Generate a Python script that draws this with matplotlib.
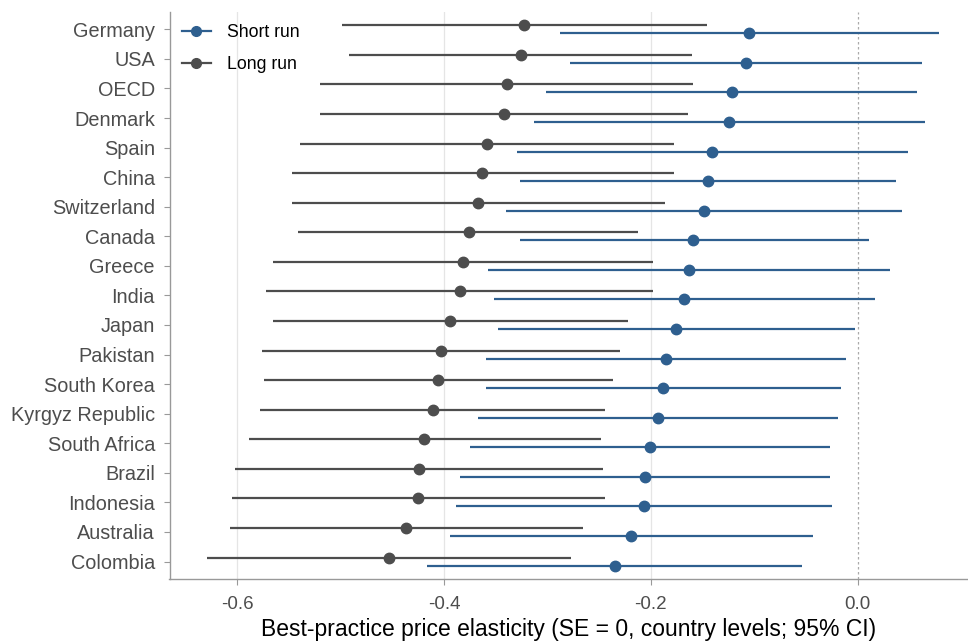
import matplotlib
matplotlib.use("Agg")
import matplotlib.pyplot as plt
from matplotlib.lines import Line2D
import numpy as np

plt.rcParams['font.family'] = ['Liberation Sans', 'DejaVu Sans']

countries = ["Germany", "USA", "OECD", "Denmark", "Spain", "China", "Switzerland",
             "Canada", "Greece", "India", "Japan", "Pakistan", "South Korea",
             "Kyrgyz Republic", "South Africa", "Brazil", "Indonesia", "Australia", "Colombia"]

short_est = [-0.105, -0.108, -0.122, -0.124, -0.141, -0.145, -0.149, -0.159, -0.163, -0.168,
             -0.176, -0.185, -0.188, -0.193, -0.201, -0.206, -0.207, -0.219, -0.235]
short_lo = [-0.288, -0.278, -0.301, -0.313, -0.329, -0.327, -0.340, -0.327, -0.357, -0.352,
            -0.348, -0.359, -0.359, -0.367, -0.375, -0.385, -0.388, -0.394, -0.416]
short_hi = [0.079, 0.062, 0.057, 0.065, 0.049, 0.037, 0.043, 0.011, 0.031, 0.017,
            -0.003, -0.011, -0.016, -0.019, -0.027, -0.027, -0.025, -0.043, -0.054]

long_est = [-0.323, -0.326, -0.339, -0.342, -0.358, -0.363, -0.367, -0.376, -0.382, -0.385,
            -0.394, -0.403, -0.406, -0.411, -0.419, -0.424, -0.425, -0.437, -0.453]
long_lo = [-0.499, -0.492, -0.520, -0.520, -0.539, -0.547, -0.547, -0.541, -0.565, -0.572,
           -0.565, -0.576, -0.574, -0.578, -0.589, -0.602, -0.605, -0.607, -0.629]
long_hi = [-0.146, -0.160, -0.159, -0.164, -0.178, -0.178, -0.186, -0.212, -0.198, -0.198,
           -0.222, -0.230, -0.237, -0.244, -0.248, -0.246, -0.244, -0.266, -0.277]

xticks = [-0.6, -0.4, -0.2, 0.0]
xticklabels = ["-0.6", "-0.4", "-0.2", "0.0"]

short_col = "#2E5F8F"
long_col = "#4D4D4D"

fig = plt.figure(figsize=(9.68, 6.44), dpi=100)
ax = fig.add_axes([169.5/968, 1 - 579/644, (968 - 169.5)/968, (579 - 12)/644])

n = len(countries)
ypos = np.arange(n)[::-1].astype(float)
dodge = 0.135

for i in range(n):
    yl = ypos[i] + dodge
    ys = ypos[i] - dodge
    ax.plot([long_lo[i], long_hi[i]], [yl, yl], color=long_col, lw=1.6, solid_capstyle='butt', zorder=3)
    ax.plot([long_est[i]], [yl], 'o', color=long_col, ms=7.5, zorder=4)
    ax.plot([short_lo[i], short_hi[i]], [ys, ys], color=short_col, lw=1.6, solid_capstyle='butt', zorder=3)
    ax.plot([short_est[i]], [ys], 'o', color=short_col, ms=7.5, zorder=4)

ax.axvline(0, color="#AAAAAA", lw=0.9, ls=(0, (2, 2)), zorder=1)
for xt in xticks[:-1]:
    ax.axvline(xt, color="#E5E5E5", lw=0.9, zorder=0)

ax.set_xlim(-0.6654, 0.1066)
ax.set_ylim(-0.59, 18.585)
ax.set_yticks(ypos)
ax.set_yticklabels(countries, fontsize=14.3, color="#4D4D4D")
ax.set_xticks(xticks)
ax.set_xticklabels(xticklabels, fontsize=13.5, color="#4D4D4D")
ax.tick_params(axis='both', colors="#999999", length=4, width=0.8, labelcolor="#4D4D4D")
ax.tick_params(axis='x', pad=8)
ax.tick_params(axis='y', pad=6.5)

for s in ['top', 'right']:
    ax.spines[s].set_visible(False)
for s in ['left', 'bottom']:
    ax.spines[s].set_color("#999999")
    ax.spines[s].set_linewidth(1.0)

ax.set_xlabel("Best-practice price elasticity (SE = 0, country levels; 95% CI)", fontsize=16.5, color="black", labelpad=4)

handles = [Line2D([0], [0], color=short_col, lw=1.6, marker='o', ms=7),
           Line2D([0], [0], color=long_col, lw=1.6, marker='o', ms=7)]
leg = ax.legend(handles, ["Short run", "Long run"], loc='upper left', frameon=False,
                fontsize=12.7, handlelength=1.65, handletextpad=0.9, labelspacing=0.85,
                borderaxespad=0.3, bbox_to_anchor=(0.0, 1.0))

fig.savefig("out.png", dpi=100)
